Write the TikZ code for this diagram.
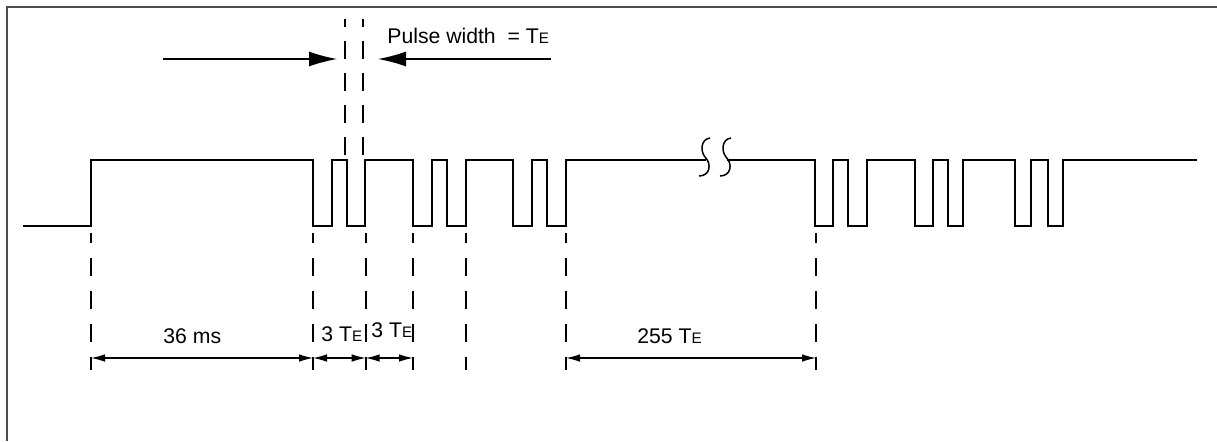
\documentclass[tikz,border=0pt]{standalone}
\usepackage{fontspec}
\setmainfont{Liberation Sans}
\usetikzlibrary{arrows.meta}
\newcommand\TEsub{T{\fontsize{7.6pt}{8pt}\selectfont E}}
\begin{document}
\begin{tikzpicture}[x=0.5pt,y=-0.5pt,
  wave/.style={line width=0.75pt,line join=miter},
  extline/.style={line width=1.2pt,dash pattern=on 9pt off 7.5pt,dash phase=4pt},
  topline/.style={line width=1.2pt,dash pattern=on 9pt off 7pt,dash phase=5pt},
  bigarrow/.style={line width=0.6pt,-{Latex[length=14pt,width=7.5pt]}},
  dimarrow/.style={line width=0.6pt,{Latex[length=7pt,width=3.8pt]}-{Latex[length=7pt,width=3.8pt]}},
  lbl/.style={inner sep=0pt,anchor=base west,font=\fontsize{10.6pt}{12pt}\selectfont},
  frameline/.style={draw=black!70,line width=1.1pt}
]
\useasboundingbox (0,0) rectangle (1217,441);
% frame
\draw[frameline] (7,441) -- (7,7) -- (1217,7);

% waveform
\draw[wave] (23,226) -- (91,226) -- (91,160) -- (313,160) -- (313,226) -- (332,226) -- (332,160) -- (347,160) -- (347,226) -- (365,226) -- (365,160) -- (413,160) -- (413,226) -- (432,226) -- (432,160) -- (447,160) -- (447,226) -- (466,226) -- (466,160) -- (513,160) -- (513,226) -- (532,226) -- (532,160) -- (547,160) -- (547,226) -- (566,226) -- (566,160) -- (706,160);
\draw[wave] (727,160) -- (815,160) -- (815,226) -- (833,226) -- (833,160) -- (848,160) -- (848,226) -- (867,226) -- (867,160) -- (915,160) -- (915,226) -- (933,226) -- (933,160) -- (948,160) -- (948,226) -- (963,226) -- (963,160) -- (1015,160) -- (1015,226) -- (1031,226) -- (1031,160) -- (1048,160) -- (1048,226) -- (1063,226) -- (1063,160) -- (1197,160);

% break marks
\foreach \o in {0,21} {
  \draw[wave] (710+\o,138) .. controls (701+\o,139) and (700+\o,151) .. (705+\o,157)
              .. controls (712+\o,164) and (710+\o,176) .. (699+\o,176);
}

% top dashed lines and pulse width arrows
\coordinate (pa) at (345,19);  \coordinate (pb) at (345,155);
\coordinate (qa) at (363,19);  \coordinate (qb) at (363,155);
\draw[topline] (pa) -- (pb);
\draw[topline] (qa) -- (qb);
\coordinate (la) at (163,59); \coordinate (lb) at (337,59);
\coordinate (ra) at (551,59); \coordinate (rb) at (378,59);
\draw[bigarrow] (la) -- (lb);
\draw[bigarrow] (ra) -- (rb);
\node[lbl] (pw) at (387,43) {Pulse width\ \ = \TEsub};

% extension lines
\foreach \n/\x in {e1/91,e2/313,e3/365.7,e4/413,e5/465.7,e6/566,e7/816} {
  \coordinate (\n t) at (\x,233);
  \coordinate (\n d) at (\x,358);
  \draw[extline] (\n t) -- (\x,370);
}

% dimension arrows
\draw[dimarrow] (e1d) -- (e2d);
\draw[dimarrow] (e2d) -- (e3d);
\draw[dimarrow] (e3d) -- (e4d);
\draw[dimarrow] (e6d) -- (e7d);

% labels
\node[lbl] (l36) at (163,343) {36 ms};
\node[lbl] (l3a) at (321,341) {3 \TEsub};
\node[lbl] (l3b) at (371,337) {3 \TEsub};
\node[lbl] (l255) at (637,343) {255 \TEsub};
\end{tikzpicture}
\end{document}
